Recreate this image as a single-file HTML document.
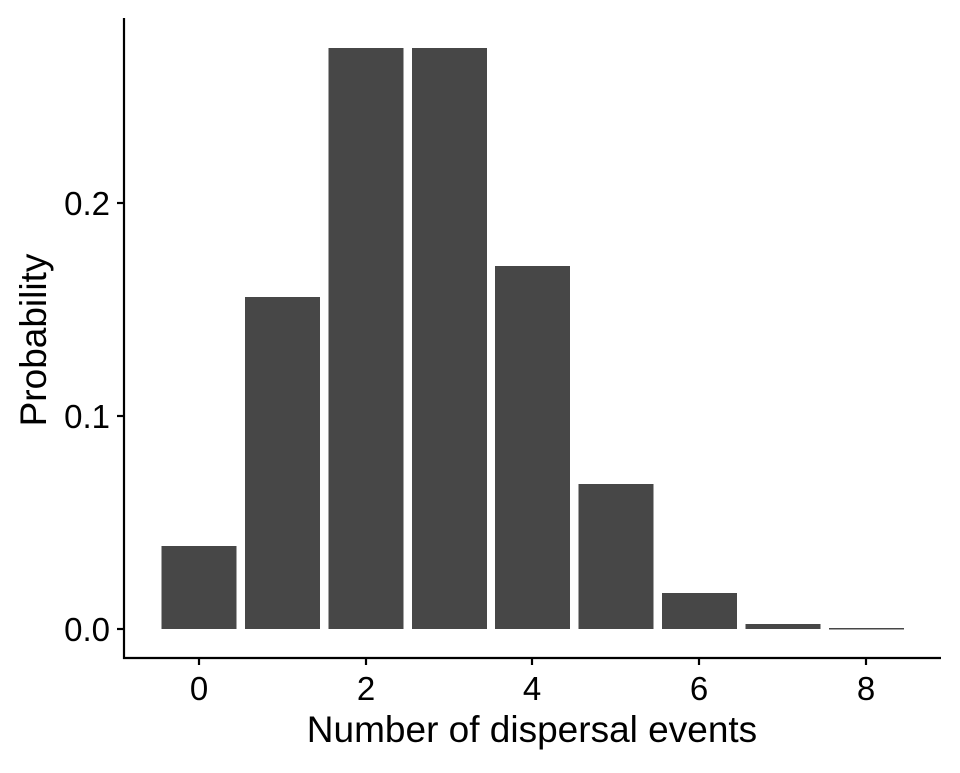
<!DOCTYPE html>
<html><head><style>body{margin:0;background:#fff}</style></head><body>
<svg width="960" height="768" xmlns="http://www.w3.org/2000/svg" style="font-family:'Liberation Sans',Arial,sans-serif">
<rect width="960" height="768" fill="#fff"/>
<g fill="#474747">
<rect x="161.5" y="546" width="75" height="83"/>
<rect x="245" y="297" width="75" height="332"/>
<rect x="328.5" y="48" width="75" height="581"/>
<rect x="412" y="48" width="75" height="581"/>
<rect x="495" y="266" width="75" height="363"/>
<rect x="578.5" y="484" width="75" height="145"/>
<rect x="662" y="593" width="75" height="36"/>
<rect x="745.5" y="624" width="75" height="5"/>
<rect x="829" y="628" width="75" height="1.5"/>
</g>
<g stroke="#000" stroke-width="2.2" fill="none">
<line x1="124" y1="18" x2="124" y2="659"/>
<line x1="123" y1="658" x2="941" y2="658"/>
<line x1="117" y1="629" x2="124" y2="629"/>
<line x1="117" y1="416" x2="124" y2="416"/>
<line x1="117" y1="203" x2="124" y2="203"/>
<line x1="199" y1="658" x2="199" y2="665"/>
<line x1="366" y1="658" x2="366" y2="665"/>
<line x1="532" y1="658" x2="532" y2="665"/>
<line x1="699" y1="658" x2="699" y2="665"/>
<line x1="866" y1="658" x2="866" y2="665"/>
</g>
<g style="font-size:33px" fill="#000" text-anchor="end">
<text x="110" y="641">0.0</text>
<text x="110" y="428">0.1</text>
<text x="110" y="215">0.2</text>
</g>
<g style="font-size:33px" fill="#000" text-anchor="middle">
<text x="199" y="700">0</text>
<text x="366" y="700">2</text>
<text x="532" y="700">4</text>
<text x="699" y="700">6</text>
<text x="866" y="700">8</text>
<text x="532" y="742" style="font-size:37px">Number of dispersal events</text>
<text transform="translate(46,340) rotate(-90)" style="font-size:37px">Probability</text>
</g>
</svg>
</body></html>
